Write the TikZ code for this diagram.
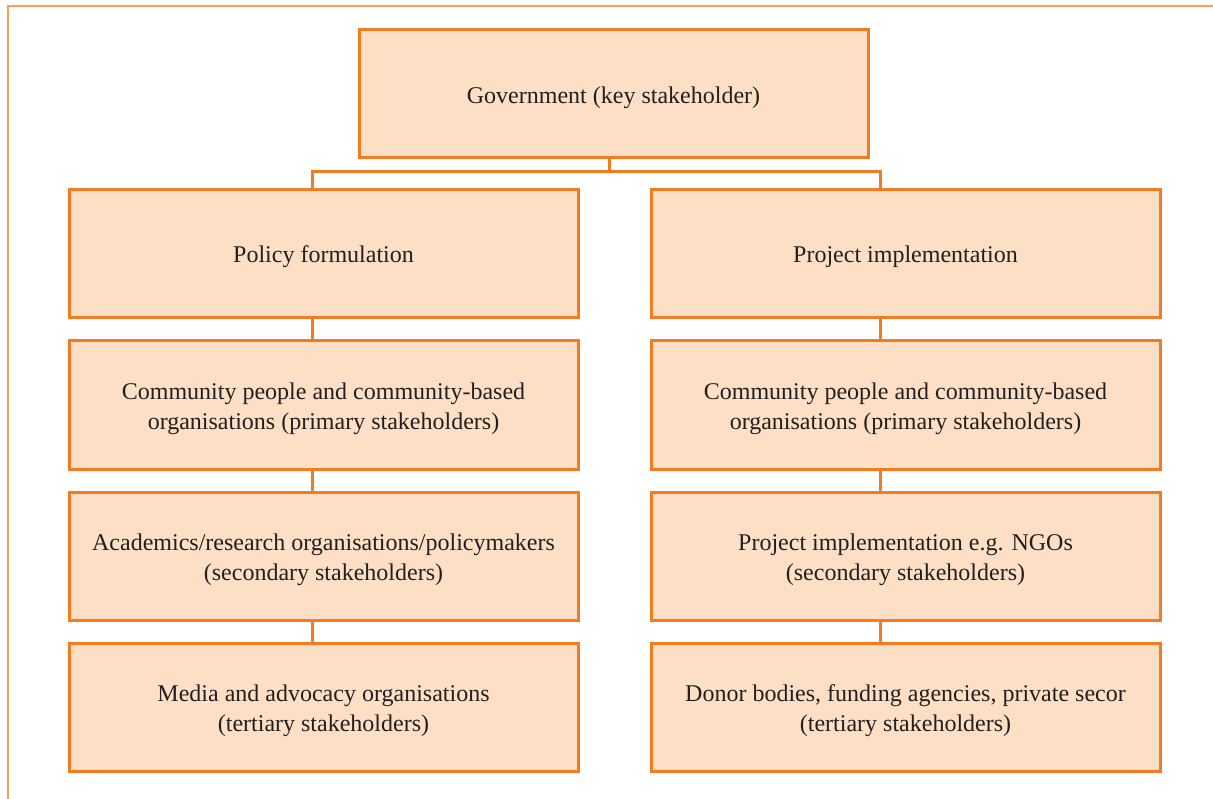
\documentclass[tikz,border=0pt]{standalone}
\usepackage{fontspec}
\setmainfont{Liberation Serif}
\definecolor{boxfill}{HTML}{FDDFC6}
\definecolor{boxline}{HTML}{F47B20}
\definecolor{frameline}{HTML}{F9A060}
\definecolor{txt}{HTML}{231F20}
\begin{document}
\begin{tikzpicture}[x=1pt,y=-1pt,
  sbox/.style={draw=boxline,line width=3pt,fill=boxfill,minimum width=509pt,minimum height=128pt,inner sep=0pt},
  stext/.style={inner sep=0pt,align=center,text=txt,font=\fontsize{24}{30}\selectfont},
  conn/.style={draw=boxline,line width=3pt}]
\useasboundingbox (0,0) rectangle (1213,799);
\draw[frameline,line width=1.2pt] (8,799) -- (8,6) -- (1213,6);
\node[sbox] (gov) at (613.5,94) {};
\node[sbox] (l1) at (323.5,254) {};
\node[sbox] (r1) at (905.5,254) {};
\node[sbox] (l2) at (323.5,405) {};
\node[sbox] (r2) at (905.5,405) {};
\node[sbox] (l3) at (323.5,556) {};
\node[sbox] (r3) at (905.5,556) {};
\node[sbox] (l4) at (323.5,707) {};
\node[sbox] (r4) at (905.5,707) {};
\node[stext] (govt) at ([yshift=-3.5pt]gov.center) {Government (key stakeholder)};
\node[stext] (l1t) at ([yshift=-3pt]l1.center) {Policy formulation};
\node[stext] (r1t) at ([yshift=-3pt]r1.center) {Project implementation};
\node[stext] (l2t) at ([yshift=-3.5pt]l2.center) {Community people and community-based\\organisations (primary stakeholders)};
\node[stext] (r2t) at ([yshift=-3.5pt]r2.center) {Community people and community-based\\organisations (primary stakeholders)};
\node[stext] (l3t) at ([yshift=-3.5pt]l3.center) {Academics/research organisations/policymakers\\(secondary stakeholders)};
\node[stext] (r3t) at ([yshift=-3.5pt]r3.center) {Project implementation e.g. NGOs\\(secondary stakeholders)};
\node[stext] (l4t) at ([yshift=-3.5pt]l4.center) {Media and advocacy organisations\\(tertiary stakeholders)};
\node[stext] (r4t) at ([yshift=-3.5pt]r4.center) {Donor bodies, funding agencies, private secor\\(tertiary stakeholders)};
\coordinate (j) at (609,172);
\draw[conn] (gov.south -| j) -- (j);
\draw[conn] (l1.north -| 312,0) -- (312,172) -- (880,172) -- (r1.north -| 880,0);
\draw[conn] (l1.south -| 312,0) -- (l2.north -| 312,0);
\draw[conn] (l2.south -| 312,0) -- (l3.north -| 312,0);
\draw[conn] (l3.south -| 312,0) -- (l4.north -| 312,0);
\draw[conn] (r1.south -| 880,0) -- (r2.north -| 880,0);
\draw[conn] (r2.south -| 880,0) -- (r3.north -| 880,0);
\draw[conn] (r3.south -| 880,0) -- (r4.north -| 880,0);
\end{tikzpicture}
\end{document}
